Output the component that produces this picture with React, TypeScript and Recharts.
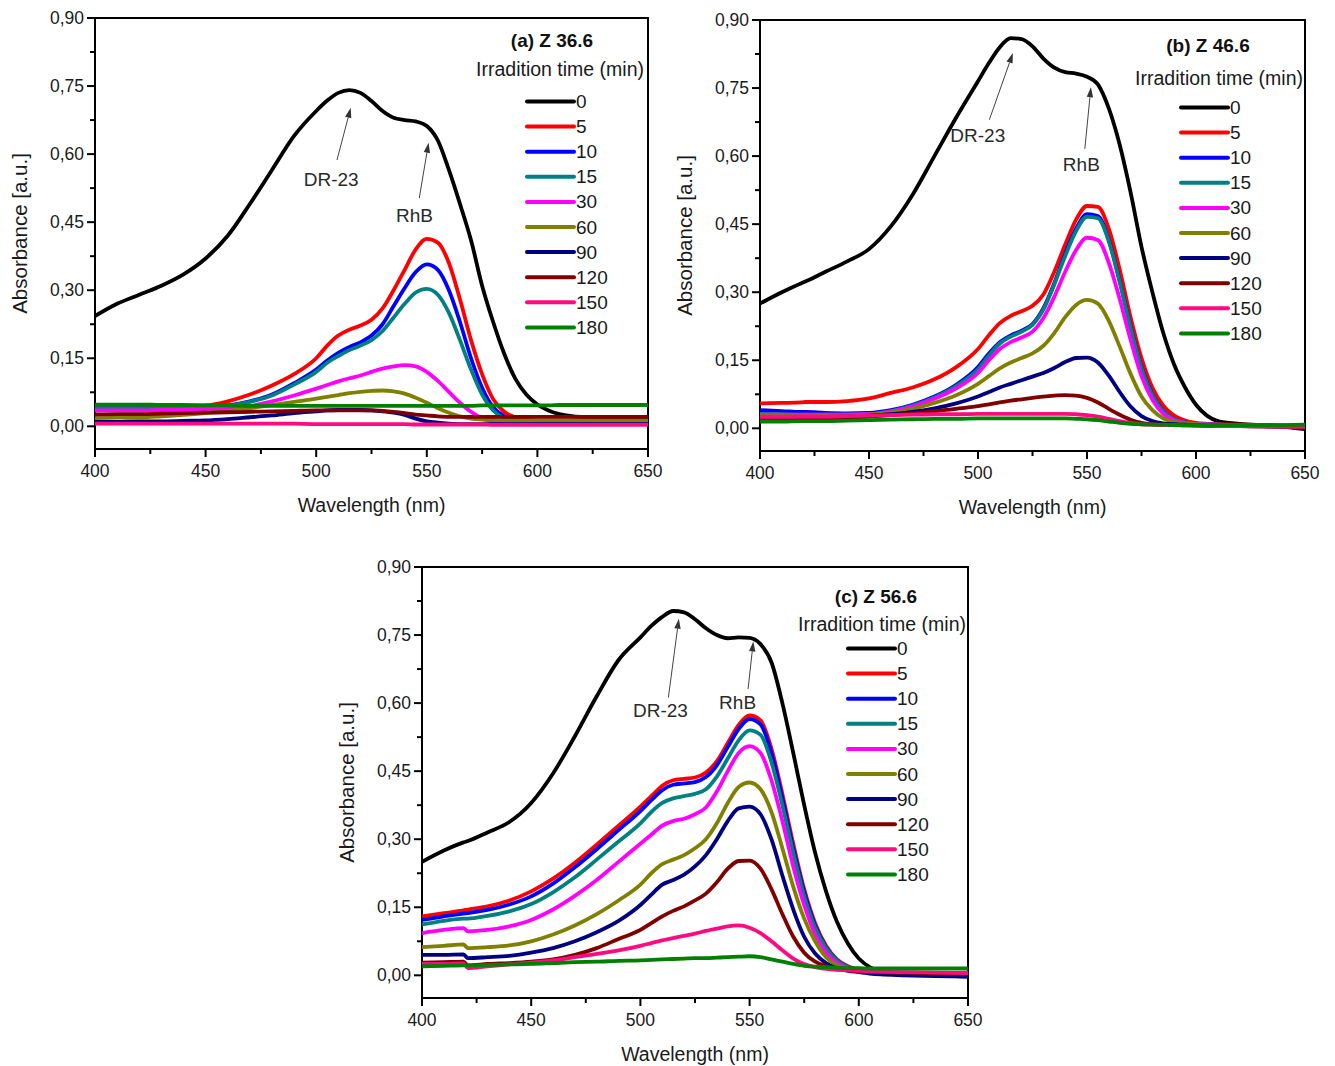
import React from 'react';
import {
  LineChart,
  Line,
  XAxis,
  YAxis,
  Legend,
  ReferenceLine,
  ReferenceDot,
  ReferenceArea,
} from 'recharts';

const FONT = "'Liberation Sans', Arial, Helvetica, sans-serif";

// Wavelength grid (nm). 419/421 bracket the lamp change-over step.
const wavelengths = [400, 410, 419, 421, 430, 440, 450, 460, 470, 480, 490, 500, 505, 510, 515, 520, 525, 530, 535, 540, 545, 550, 555, 560, 565, 570, 575, 580, 585, 590, 595, 600, 605, 610, 620, 635, 650];

const xTicks = [400, 425, 450, 475, 500, 525, 550, 575, 600, 625, 650];
const yTicks = [0, 0.075, 0.15, 0.225, 0.3, 0.375, 0.45, 0.525, 0.6, 0.675, 0.75, 0.825, 0.9];

const times = ['0', '5', '10', '15', '30', '60', '90', '120', '150', '180'];
const timeColors = ['#000000', '#ff0000', '#0000ff', '#008080', '#ff00ff', '#808000', '#000080', '#800000', '#ff0a80', '#008000'];

// ---- (a) Z 36.6 ----
const a0 = [0.243, 0.27, 0.288, 0.292, 0.31, 0.335, 0.37, 0.42, 0.49, 0.565, 0.64, 0.695, 0.718, 0.735, 0.741, 0.735, 0.717, 0.695, 0.68, 0.675, 0.672, 0.662, 0.63, 0.565, 0.49, 0.41, 0.31, 0.23, 0.16, 0.105, 0.07, 0.048, 0.035, 0.027, 0.021, 0.02, 0.02];
const a5 = [0.045, 0.045, 0.045, 0.045, 0.045, 0.045, 0.046, 0.055, 0.07, 0.09, 0.115, 0.15, 0.178, 0.2, 0.213, 0.222, 0.235, 0.26, 0.3, 0.345, 0.39, 0.413, 0.405, 0.36, 0.28, 0.19, 0.115, 0.06, 0.032, 0.02, 0.014, 0.012, 0.011, 0.01, 0.01, 0.01, 0.01];
const a10 = [0.04, 0.04, 0.04, 0.04, 0.04, 0.04, 0.042, 0.046, 0.055, 0.07, 0.095, 0.125, 0.145, 0.162, 0.175, 0.185, 0.2, 0.225, 0.265, 0.305, 0.34, 0.357, 0.345, 0.3, 0.23, 0.15, 0.085, 0.042, 0.022, 0.013, 0.01, 0.008, 0.008, 0.008, 0.008, 0.008, 0.008];
const a15 = [0.04, 0.04, 0.04, 0.04, 0.04, 0.04, 0.042, 0.045, 0.054, 0.068, 0.092, 0.12, 0.14, 0.155, 0.168, 0.178, 0.19, 0.21, 0.24, 0.27, 0.295, 0.303, 0.29, 0.25, 0.19, 0.125, 0.07, 0.035, 0.018, 0.012, 0.01, 0.01, 0.01, 0.01, 0.01, 0.01, 0.01];
const a30 = [0.035, 0.035, 0.035, 0.035, 0.036, 0.037, 0.038, 0.04, 0.045, 0.055, 0.068, 0.083, 0.091, 0.099, 0.106, 0.112, 0.12, 0.127, 0.132, 0.135, 0.132, 0.12, 0.1, 0.076, 0.052, 0.032, 0.018, 0.01, 0.007, 0.005, 0.005, 0.005, 0.005, 0.005, 0.005, 0.005, 0.005];
const a60 = [0.018, 0.019, 0.02, 0.02, 0.022, 0.025, 0.029, 0.034, 0.04, 0.047, 0.054, 0.061, 0.065, 0.069, 0.073, 0.076, 0.078, 0.079, 0.077, 0.072, 0.063, 0.052, 0.04, 0.03, 0.022, 0.017, 0.015, 0.014, 0.013, 0.013, 0.013, 0.013, 0.013, 0.013, 0.013, 0.013, 0.013];
const a90 = [0.01, 0.01, 0.011, 0.011, 0.011, 0.012, 0.013, 0.016, 0.02, 0.024, 0.029, 0.033, 0.035, 0.036, 0.036, 0.036, 0.035, 0.033, 0.03, 0.025, 0.017, 0.011, 0.008, 0.006, 0.005, 0.005, 0.005, 0.005, 0.005, 0.005, 0.005, 0.005, 0.005, 0.005, 0.005, 0.005, 0.005];
const a120 = [0.026, 0.027, 0.027, 0.027, 0.028, 0.029, 0.03, 0.031, 0.032, 0.033, 0.034, 0.035, 0.035, 0.035, 0.035, 0.035, 0.035, 0.034, 0.032, 0.029, 0.026, 0.024, 0.022, 0.021, 0.021, 0.021, 0.021, 0.021, 0.021, 0.021, 0.021, 0.021, 0.021, 0.021, 0.021, 0.021, 0.021];
const a150 = [0.006, 0.006, 0.006, 0.006, 0.006, 0.006, 0.006, 0.006, 0.006, 0.006, 0.006, 0.005, 0.005, 0.005, 0.005, 0.005, 0.005, 0.005, 0.005, 0.005, 0.004, 0.004, 0.004, 0.004, 0.004, 0.004, 0.004, 0.003, 0.003, 0.003, 0.003, 0.003, 0.003, 0.003, 0.003, 0.003, 0.003];
const a180 = [0.048, 0.048, 0.048, 0.048, 0.047, 0.047, 0.046, 0.046, 0.045, 0.045, 0.045, 0.045, 0.045, 0.045, 0.045, 0.045, 0.045, 0.045, 0.045, 0.045, 0.045, 0.045, 0.045, 0.045, 0.045, 0.045, 0.046, 0.046, 0.046, 0.046, 0.046, 0.046, 0.046, 0.047, 0.047, 0.047, 0.047];

// ---- (b) Z 46.6 ----
const b0 = [0.275, 0.3, 0.32, 0.324, 0.345, 0.368, 0.395, 0.445, 0.515, 0.6, 0.685, 0.765, 0.805, 0.84, 0.86, 0.858, 0.842, 0.815, 0.795, 0.785, 0.782, 0.775, 0.758, 0.705, 0.625, 0.52, 0.4, 0.3, 0.21, 0.14, 0.09, 0.052, 0.028, 0.016, 0.01, 0.006, -0.002];
const b5 = [0.055, 0.056, 0.057, 0.058, 0.058, 0.06, 0.066, 0.078, 0.09, 0.108, 0.135, 0.175, 0.205, 0.232, 0.248, 0.258, 0.27, 0.295, 0.345, 0.405, 0.46, 0.49, 0.488, 0.44, 0.35, 0.245, 0.155, 0.09, 0.05, 0.028, 0.017, 0.012, 0.01, 0.009, 0.008, 0.007, 0.005];
const b10 = [0.04, 0.038, 0.036, 0.036, 0.034, 0.033, 0.034, 0.04, 0.052, 0.07, 0.096, 0.135, 0.165, 0.19, 0.205, 0.215, 0.23, 0.265, 0.32, 0.385, 0.44, 0.472, 0.468, 0.415, 0.325, 0.225, 0.135, 0.075, 0.038, 0.02, 0.013, 0.01, 0.009, 0.008, 0.007, 0.006, 0.004];
const b15 = [0.032, 0.031, 0.03, 0.03, 0.03, 0.03, 0.031, 0.038, 0.05, 0.068, 0.093, 0.13, 0.16, 0.187, 0.202, 0.213, 0.228, 0.262, 0.317, 0.38, 0.435, 0.466, 0.463, 0.412, 0.322, 0.222, 0.133, 0.073, 0.037, 0.02, 0.013, 0.01, 0.009, 0.008, 0.007, 0.006, 0.004];
const b30 = [0.03, 0.03, 0.03, 0.03, 0.03, 0.03, 0.031, 0.037, 0.048, 0.065, 0.088, 0.122, 0.15, 0.175, 0.19, 0.2, 0.213, 0.243, 0.29, 0.345, 0.393, 0.42, 0.415, 0.365, 0.285, 0.195, 0.115, 0.063, 0.032, 0.018, 0.012, 0.01, 0.009, 0.008, 0.007, 0.006, 0.004];
const b60 = [0.027, 0.027, 0.027, 0.027, 0.027, 0.028, 0.03, 0.035, 0.043, 0.056, 0.073, 0.098, 0.115, 0.132, 0.145, 0.155, 0.165, 0.182, 0.21, 0.245, 0.272, 0.283, 0.275, 0.237, 0.18, 0.12, 0.07, 0.04, 0.022, 0.014, 0.011, 0.009, 0.008, 0.007, 0.006, 0.005, 0.004];
const b90 = [0.025, 0.025, 0.025, 0.025, 0.025, 0.026, 0.028, 0.031, 0.036, 0.044, 0.055, 0.07, 0.08, 0.09, 0.098, 0.106, 0.114, 0.122, 0.133, 0.146, 0.155, 0.156, 0.145, 0.116, 0.08, 0.048, 0.027, 0.016, 0.011, 0.009, 0.008, 0.007, 0.006, 0.006, 0.005, 0.004, 0.003];
const b120 = [0.02, 0.02, 0.021, 0.021, 0.022, 0.024, 0.026, 0.029, 0.033, 0.038, 0.043, 0.049, 0.053, 0.057, 0.061, 0.064, 0.067, 0.07, 0.072, 0.073, 0.072, 0.067, 0.057, 0.043, 0.03, 0.019, 0.012, 0.009, 0.008, 0.007, 0.007, 0.006, 0.006, 0.005, 0.005, 0.004, 0.003];
const b150 = [0.025, 0.025, 0.026, 0.026, 0.026, 0.027, 0.028, 0.029, 0.03, 0.031, 0.031, 0.032, 0.032, 0.032, 0.032, 0.032, 0.032, 0.032, 0.032, 0.032, 0.031, 0.029, 0.026, 0.021, 0.016, 0.012, 0.009, 0.008, 0.007, 0.007, 0.006, 0.006, 0.006, 0.005, 0.005, 0.004, 0.003];
const b180 = [0.015, 0.015, 0.016, 0.016, 0.016, 0.017, 0.018, 0.019, 0.02, 0.021, 0.021, 0.022, 0.022, 0.022, 0.022, 0.022, 0.022, 0.022, 0.022, 0.022, 0.021, 0.02, 0.018, 0.015, 0.012, 0.01, 0.009, 0.008, 0.008, 0.007, 0.007, 0.007, 0.007, 0.007, 0.007, 0.007, 0.008];

// ---- (c) Z 56.6 ----
const c0 = [0.25, 0.275, 0.293, 0.296, 0.315, 0.338, 0.38, 0.445, 0.527, 0.615, 0.695, 0.745, 0.77, 0.79, 0.803, 0.8, 0.785, 0.765, 0.75, 0.743, 0.745, 0.744, 0.73, 0.69, 0.6, 0.49, 0.375, 0.27, 0.185, 0.118, 0.07, 0.037, 0.018, 0.008, 0.003, 0.0, -0.003];
const c5 = [0.13, 0.137, 0.143, 0.145, 0.152, 0.165, 0.185, 0.213, 0.248, 0.288, 0.33, 0.372, 0.395, 0.418, 0.43, 0.433, 0.436, 0.447, 0.472, 0.512, 0.552, 0.573, 0.562, 0.5, 0.4, 0.29, 0.19, 0.115, 0.065, 0.035, 0.02, 0.012, 0.008, 0.006, 0.004, 0.003, 0.002];
const c10 = [0.122, 0.13, 0.136, 0.137, 0.144, 0.156, 0.174, 0.202, 0.238, 0.278, 0.32, 0.362, 0.386, 0.408, 0.42, 0.423, 0.426, 0.437, 0.463, 0.503, 0.543, 0.565, 0.553, 0.49, 0.39, 0.28, 0.183, 0.11, 0.062, 0.033, 0.018, 0.01, 0.007, 0.005, 0.003, 0.002, 0.001];
const c15 = [0.112, 0.12, 0.125, 0.125, 0.131, 0.141, 0.157, 0.183, 0.216, 0.255, 0.295, 0.335, 0.36, 0.38, 0.39, 0.395, 0.4, 0.41, 0.438, 0.478, 0.518, 0.54, 0.53, 0.47, 0.375, 0.27, 0.175, 0.105, 0.06, 0.032, 0.018, 0.01, 0.007, 0.005, 0.003, 0.002, 0.001];
const c30 = [0.093, 0.1, 0.104, 0.097, 0.1, 0.108, 0.122, 0.145, 0.175, 0.21, 0.25, 0.29, 0.31, 0.33, 0.34, 0.345, 0.355, 0.37, 0.405, 0.45, 0.49, 0.505, 0.49, 0.43, 0.34, 0.24, 0.155, 0.09, 0.05, 0.027, 0.015, 0.01, 0.007, 0.005, 0.003, 0.002, 0.001];
const c60 = [0.062, 0.065, 0.068, 0.06, 0.062, 0.066, 0.075, 0.09, 0.11, 0.135, 0.165, 0.2, 0.225, 0.245, 0.255, 0.265, 0.28, 0.3, 0.335, 0.38, 0.415, 0.425, 0.41, 0.36, 0.28, 0.195, 0.125, 0.075, 0.04, 0.022, 0.013, 0.009, 0.006, 0.004, 0.002, 0.0, -0.002];
const c90 = [0.045, 0.045, 0.046, 0.038, 0.04, 0.043, 0.05, 0.06, 0.075, 0.095, 0.12, 0.155, 0.178, 0.2, 0.21, 0.222, 0.24, 0.265, 0.3, 0.34, 0.368, 0.372, 0.355, 0.3, 0.22, 0.145, 0.085, 0.048, 0.027, 0.015, 0.01, 0.007, 0.004, 0.002, 0.0, -0.002, -0.003];
const c120 = [0.028, 0.029, 0.03, 0.022, 0.025, 0.027, 0.03, 0.035, 0.045, 0.06, 0.08, 0.1, 0.115, 0.13, 0.142, 0.152, 0.165, 0.18, 0.205, 0.235, 0.252, 0.253, 0.235, 0.19, 0.135, 0.085, 0.05, 0.03, 0.02, 0.014, 0.011, 0.009, 0.008, 0.007, 0.006, 0.005, 0.005];
const c150 = [0.025, 0.025, 0.026, 0.016, 0.02, 0.024, 0.028, 0.033, 0.04, 0.047, 0.055, 0.065, 0.071, 0.077, 0.082, 0.087, 0.092, 0.098, 0.103, 0.108, 0.11, 0.105, 0.093, 0.075, 0.055, 0.037, 0.025, 0.018, 0.014, 0.012, 0.011, 0.01, 0.009, 0.008, 0.007, 0.006, 0.005];
const c180 = [0.02, 0.021, 0.022, 0.022, 0.023, 0.024, 0.025, 0.027, 0.029, 0.03, 0.032, 0.033, 0.034, 0.035, 0.036, 0.037, 0.038, 0.038, 0.039, 0.04, 0.041, 0.042, 0.04, 0.035, 0.03, 0.025, 0.021, 0.019, 0.018, 0.017, 0.016, 0.016, 0.015, 0.015, 0.015, 0.015, 0.015];

// Peak annotations: [label x, label y, arrow tail x, tail y, arrow tip x, tip y]
const drA = [506.8, 0.543, 509.4, 0.587, 515.6, 0.702];
const rhbA = [544.4, 0.465, 546.6, 0.503, 550.8, 0.625];
const drB = [499.9, 0.645, 505.2, 0.68, 516.0, 0.827];
const rhbB = [547.4, 0.581, 549.0, 0.616, 551.8, 0.752];
const drC = [509.2, 0.583, 512.8, 0.612, 517.6, 0.786];
const rhbC = [544.5, 0.601, 549.3, 0.631, 551.7, 0.736];

type LegendPos = {
  titleX: number; titleY: number; subRight: number; subY: number;
  lx1: number; lx2: number; labelX: number; row0: number; gap: number;
};

type PanelCfg = {
  title: string;
  left: number; top: number; width: number; height: number;
  margin: { top: number; right: number; bottom: number; left: number };
  series: number[][];
  dr: number[]; rhb: number[];
  legend: LegendPos;
};

const panels: PanelCfg[] = [
  {
    title: '(a) Z 36.6',
    left: 0, top: 0, width: 670, height: 525,
    margin: { top: 18, right: 22, bottom: 14, left: 35 },
    series: [a0, a5, a10, a15, a30, a60, a90, a120, a150, a180],
    dr: drA, rhb: rhbA,
    legend: { titleX: 552, titleY: 40, subRight: 644, subY: 69, lx1: 527, lx2: 574, labelX: 576, row0: 101.5, gap: 25.1 },
  },
  {
    title: '(b) Z 46.6',
    left: 665, top: 0, width: 670, height: 525,
    margin: { top: 20, right: 30, bottom: 12, left: 35 },
    series: [b0, b5, b10, b15, b30, b60, b90, b120, b150, b180],
    dr: drB, rhb: rhbB,
    legend: { titleX: 543, titleY: 45.5, subRight: 638, subY: 77.5, lx1: 516, lx2: 563, labelX: 565, row0: 107.5, gap: 25.1 },
  },
  {
    title: '(c) Z 56.6',
    left: 327, top: 547, width: 670, height: 519,
    margin: { top: 20, right: 29, bottom: 6, left: 35 },
    series: [c0, c5, c10, c15, c30, c60, c90, c120, c150, c180],
    dr: drC, rhb: rhbC,
    legend: { titleX: 549, titleY: 49, subRight: 639, subY: 77, lx1: 521, lx2: 568, labelX: 570, row0: 101.5, gap: 25.1 },
  },
];

function buildRows(series: number[][]) {
  return wavelengths.map((wl, i) => {
    const row: Record<string, number> = { wl };
    series.forEach((s, k) => {
      row['t' + times[k]] = s[i];
    });
    return row;
  });
}

const renderXTick = (p: any) => {
  const v = p.payload.value as number;
  const major = v % 50 === 0;
  return (
    <g>
      <line x1={p.x} y1={p.y} x2={p.x} y2={p.y + (major ? 8 : 5)} stroke="#000" strokeWidth={2} />
      {major ? (
        <text x={p.x} y={p.y + 22} textAnchor="middle" dominantBaseline="central" fontFamily={FONT} fontSize={17.5} fill="#1a1a1a">
          {v}
        </text>
      ) : null}
    </g>
  );
};

const renderYTick = (p: any) => {
  const v = p.payload.value as number;
  const major = Math.round(v * 1000) % 150 === 0;
  return (
    <g>
      <line x1={p.x} y1={p.y} x2={p.x - (major ? 8 : 5)} y2={p.y} stroke="#000" strokeWidth={2} />
      {major ? (
        <text x={p.x - 11} y={p.y} textAnchor="end" dominantBaseline="central" fontFamily={FONT} fontSize={17.5} fill="#1a1a1a">
          {v.toFixed(2).replace('.', ',')}
        </text>
      ) : null}
    </g>
  );
};

const xTitle = (p: any) => {
  const vb = p.viewBox || { x: 0, y: 0, width: 0, height: 0 };
  const cx = vb.x + vb.width / 2;
  const cy = vb.y + 56;
  return (
    <text x={cx} y={cy} textAnchor="middle" dominantBaseline="central" fontFamily={FONT} fontSize={19.5} fill="#1a1a1a">
      Wavelength (nm)
    </text>
  );
};

const yTitle = (p: any) => {
  const vb = p.viewBox || { x: 0, y: 0, width: 0, height: 0 };
  const cx = vb.x + vb.width - 76;
  const cy = vb.y + vb.height / 2;
  return (
    <text
      x={cx}
      y={cy}
      transform={`rotate(-90 ${cx} ${cy})`}
      textAnchor="middle"
      dominantBaseline="central"
      fontFamily={FONT}
      fontSize={20.5}
      fill="#1a1a1a"
    >
      Absorbance [a.u.]
    </text>
  );
};

// Thin annotation arrow with a filled head at the second segment point
const arrowShape = (p: any) => {
  const { x1, y1, x2, y2 } = p;
  const ang = Math.atan2(y2 - y1, x2 - x1);
  const len = 10;
  const half = 3.2;
  const bx = x2 - len * Math.cos(ang);
  const by = y2 - len * Math.sin(ang);
  const px = -Math.sin(ang) * half;
  const py = Math.cos(ang) * half;
  return (
    <g>
      <line x1={x1} y1={y1} x2={bx} y2={by} stroke="#444" strokeWidth={1} />
      <polygon points={`${x2},${y2} ${bx + px},${by + py} ${bx - px},${by - py}`} fill="#333" />
    </g>
  );
};

const noteText = (text: string) => (p: any) => (
  <text x={p.cx} y={p.cy} textAnchor="middle" dominantBaseline="central" fontFamily={FONT} fontSize={19} fill="#2a2a2a">
    {text}
  </text>
);

function makeLegend(cfg: PanelCfg) {
  const L = cfg.legend;
  return () => (
    <svg width={cfg.width} height={cfg.height} style={{ overflow: 'visible', display: 'block' }}>
      <text x={L.titleX} y={L.titleY} textAnchor="middle" dominantBaseline="central" fontFamily={FONT} fontSize={19} fontWeight="bold" fill="#111">
        {cfg.title}
      </text>
      <text x={L.subRight} y={L.subY} textAnchor="end" dominantBaseline="central" fontFamily={FONT} fontSize={19.5} fill="#1a1a1a">
        Irradition time (min)
      </text>
      {times.map((t, k) => {
        const y = L.row0 + k * L.gap;
        return (
          <g key={t}>
            <line x1={L.lx1} y1={y} x2={L.lx2} y2={y} stroke={timeColors[k]} strokeWidth={4} strokeLinecap="round" />
            <text x={L.labelX} y={y} dominantBaseline="central" fontFamily={FONT} fontSize={19} fill="#1a1a1a">
              {t}
            </text>
          </g>
        );
      })}
    </svg>
  );
}

function SpectraPanel({ cfg }: { cfg: PanelCfg }) {
  const rows = buildRows(cfg.series);
  return (
    <div style={{ position: 'absolute', left: cfg.left, top: cfg.top, width: cfg.width, height: cfg.height }}>
      <LineChart width={cfg.width} height={cfg.height} data={rows} margin={cfg.margin}>
        <XAxis
          dataKey="wl"
          type="number"
          domain={[400, 650]}
          ticks={xTicks}
          interval={0}
          tickSize={0}
          tickMargin={0}
          tickLine={false}
          axisLine={false}
          tick={renderXTick}
          height={62}
          allowDataOverflow
          label={xTitle}
        />
        <YAxis
          type="number"
          domain={[-0.05, 0.9]}
          ticks={yTicks}
          interval={0}
          tickSize={0}
          tickMargin={0}
          tickLine={false}
          axisLine={false}
          tick={renderYTick}
          width={60}
          allowDataOverflow
          label={yTitle}
        />
        <ReferenceArea x1={400} x2={650} y1={-0.05} y2={0.9} fill="none" fillOpacity={0} stroke="#000" strokeWidth={2} ifOverflow="visible" />
        {times.map((t, k) => (
          <Line
            key={t}
            dataKey={'t' + t}
            name={t}
            type="monotone"
            stroke={timeColors[k]}
            strokeWidth={3.8}
            dot={false}
            activeDot={false}
            isAnimationActive={false}
          />
        ))}
        <ReferenceLine
          segment={[{ x: cfg.dr[2], y: cfg.dr[3] }, { x: cfg.dr[4], y: cfg.dr[5] }]}
          shape={arrowShape}
          ifOverflow="visible"
        />
        <ReferenceLine
          segment={[{ x: cfg.rhb[2], y: cfg.rhb[3] }, { x: cfg.rhb[4], y: cfg.rhb[5] }]}
          shape={arrowShape}
          ifOverflow="visible"
        />
        <ReferenceDot x={cfg.dr[0]} y={cfg.dr[1]} r={1} shape={noteText('DR-23')} ifOverflow="visible" />
        <ReferenceDot x={cfg.rhb[0]} y={cfg.rhb[1]} r={1} shape={noteText('RhB')} ifOverflow="visible" />
        <Legend
          layout="vertical"
          align="center"
          verticalAlign="middle"
          content={makeLegend(cfg)}
          wrapperStyle={{ left: 0, top: 0, width: cfg.width, height: cfg.height, pointerEvents: 'none' }}
        />
      </LineChart>
    </div>
  );
}

export default function App() {
  return (
    <div style={{ position: 'absolute', left: 0, top: 0, width: 1335, height: 1066, background: '#ffffff', overflow: 'hidden' }}>
      {panels.map((cfg) => (
        <SpectraPanel key={cfg.title} cfg={cfg} />
      ))}
    </div>
  );
}
